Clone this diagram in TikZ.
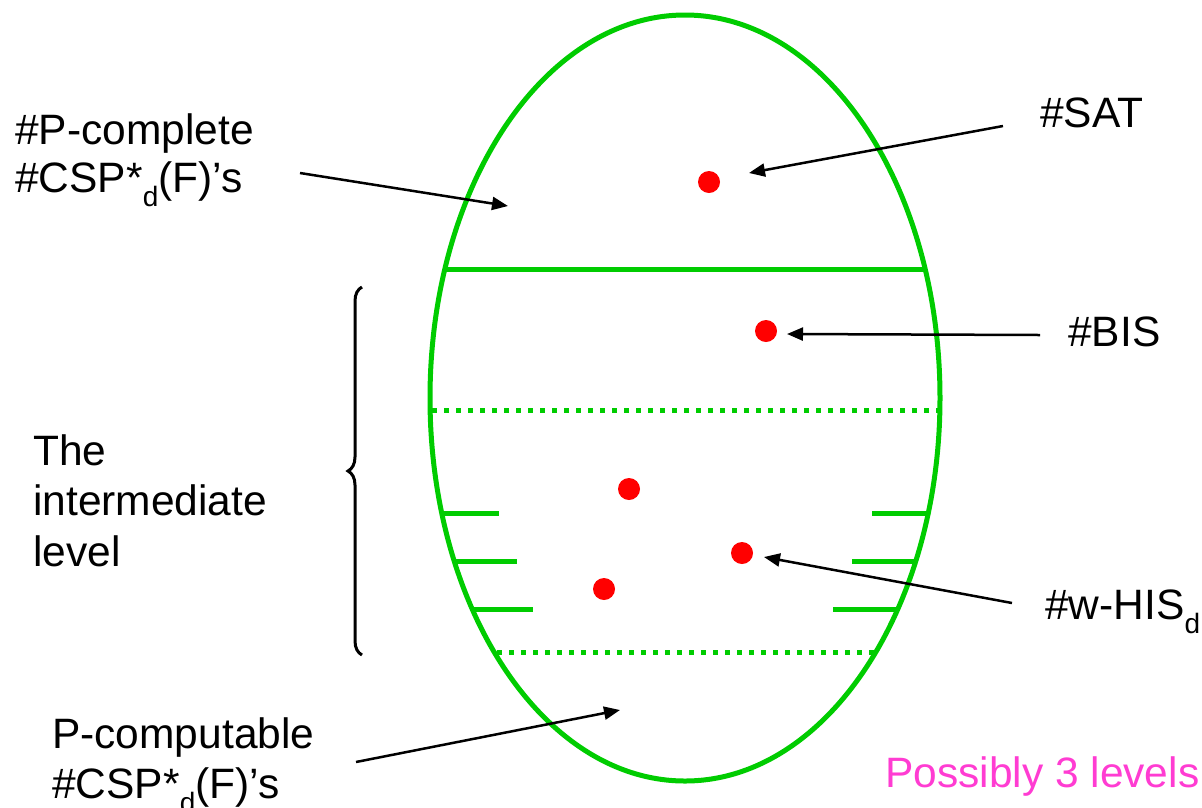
\documentclass[tikz,border=0pt]{standalone}
\usepackage{fontspec}
\setmainfont{Liberation Sans}
\usetikzlibrary{arrows.meta,decorations.pathreplacing}
\definecolor{egg}{RGB}{0,204,0}
\definecolor{pinkish}{RGB}{255,60,210}
\newcommand{\subd}{\raisebox{-14pt}{\fontsize{28}{28}\selectfont d}}
\begin{document}
\begin{tikzpicture}[x=1pt,y=-1pt,
  txt/.style={anchor=base west, align=left, inner sep=0pt, font=\fontsize{42.5}{48}\selectfont},
  eggline/.style={draw=egg, line width=5pt},
  eggdots/.style={draw=egg, line width=5pt, dash pattern=on 5pt off 7pt},
  reddot/.style={circle, fill=red, minimum size=22pt, inner sep=0pt},
  pointer/.style={-{Triangle[length=16pt,width=13pt]}, line width=2.5pt},
  bracestyle/.style={decorate, decoration={brace, amplitude=14pt}, line width=3pt}]
\useasboundingbox (0,0) rectangle (1202,807);
% egg
\draw[eggline] (685,398) ellipse [x radius=255, y radius=383];
\draw[eggline] (445,269) -- (925,269);
\draw[eggdots] (432,410) -- (940,410);
\draw[eggdots] (497,652) -- (874,652);
% ticks
\draw[eggline] (442,513) -- (499,513);
\draw[eggline] (454,561) -- (517,561);
\draw[eggline] (472,609) -- (533,609);
\draw[eggline] (872,513) -- (928,513);
\draw[eggline] (852,561) -- (916,561);
\draw[eggline] (833,609) -- (898,609);
% dots
\node[reddot] (dsat) at (709,182) {};
\node[reddot] (dbis) at (766,331) {};
\node[reddot] (d1) at (629,489) {};
\node[reddot] (dwhis) at (742,553) {};
\node[reddot] (d2) at (604,589) {};
% texts (base = baseline of last line)
\node[txt] (pc) at (15,192) {\#P-complete\\\#CSP*\subd(F)’s};
\node[txt] (sat) at (1040,127) {\#SAT};
\node[txt] (bis) at (1068,346) {\#BIS};
\node[txt, font=\fontsize{42.5}{50.5}\selectfont] (mid) at (33,566) {The\\intermediate\\level};
\node[txt] (whis) at (1045,619) {\#w-HIS\subd};
\node[txt, font=\fontsize{42.5}{50}\selectfont] (pcomp) at (52,798) {P-computable\\\#CSP*\subd(F)’s};
\node[txt, text=pinkish] (poss) at (885,787) {Possibly 3 levels};
% arrow coordinates
\coordinate (a1s) at (300,173); \coordinate (a1e) at (508,206);
\coordinate (a2s) at (1003,126); \coordinate (a2e) at (749,173);
\coordinate (a3s) at (1040,335); \coordinate (a3e) at (787,334);
\coordinate (a4s) at (1012,603); \coordinate (a4e) at (764,557);
\coordinate (a5s) at (356,762); \coordinate (a5e) at (620,710);
\draw[pointer] (a1s) -- (a1e);
\draw[pointer] (a2s) -- (a2e);
\draw[pointer] (a3s) -- (a3e);
\draw[pointer] (a4s) -- (a4e);
\draw[pointer] (a5s) -- (a5e);
% brace
\coordinate (bb) at (362,655); \coordinate (bt) at (362,287);
\draw[bracestyle] (bb) -- (bt);
\end{tikzpicture}
\end{document}
